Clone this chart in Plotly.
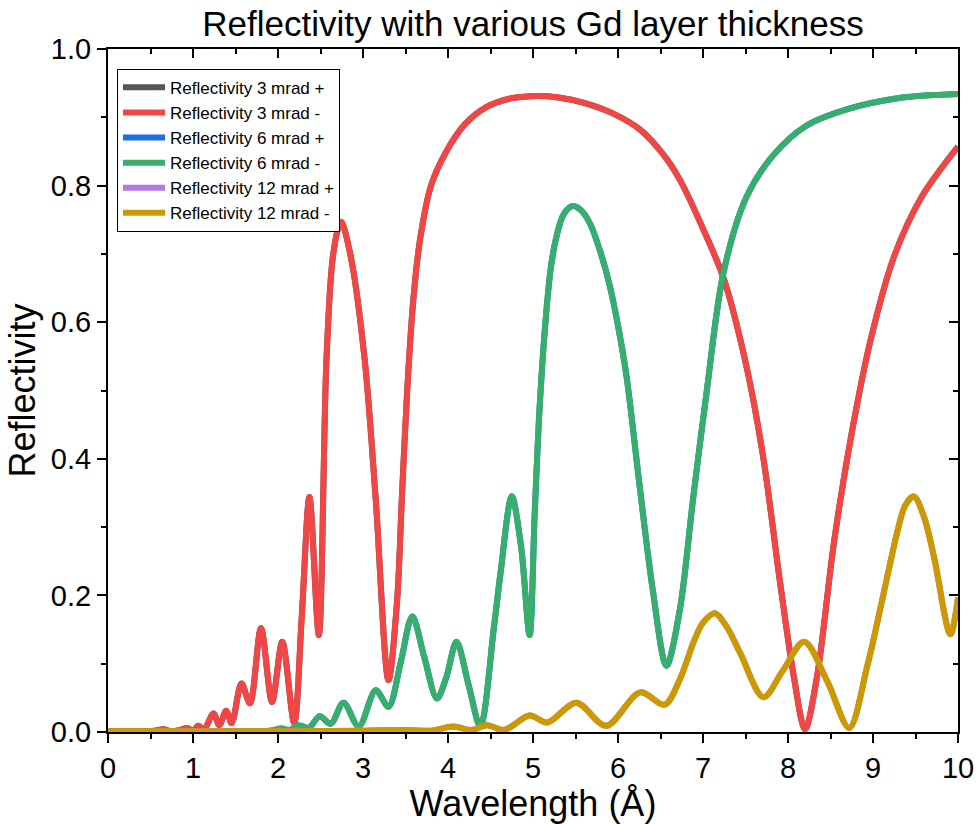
import plotly.graph_objects as go

# ---- data ----
wl_3 = [0, 0.3, 0.55, 0.65, 0.75, 0.85, 0.93, 1.0, 1.06, 1.13, 1.24, 1.31, 1.39, 1.455,
        1.57, 1.67, 1.80, 1.93, 2.05, 2.19, 2.28, 2.37, 2.48, 2.57, 2.65, 2.74, 2.85,
        3.02, 3.15, 3.30, 3.40, 3.46, 3.52, 3.59, 3.67, 3.80, 3.98, 4.20, 4.45, 4.75,
        5.0, 5.3, 5.6, 5.95, 6.26, 6.53, 6.73, 6.96, 7.24, 7.51, 7.71, 7.91, 8.07,
        8.20, 8.34, 8.54, 8.74, 8.97, 9.25, 9.57, 10.0]
r_3 = [0.001, 0.001, 0.002, 0.004, 0.001, 0.003, 0.006, 0.002, 0.009, 0.004, 0.027, 0.010,
       0.031, 0.013, 0.071, 0.042, 0.152, 0.044, 0.132, 0.013, 0.17, 0.344, 0.142, 0.545,
       0.70, 0.747, 0.70, 0.545, 0.34, 0.076, 0.19, 0.35, 0.50, 0.63, 0.72, 0.80, 0.85,
       0.89, 0.915, 0.928, 0.931, 0.929, 0.921, 0.905, 0.882, 0.846, 0.808, 0.748, 0.665,
       0.536, 0.401, 0.216, 0.080, 0.004, 0.080, 0.277, 0.431, 0.573, 0.697, 0.783, 0.857]

wl_6 = [0, 1.0, 1.6, 1.9, 2.04, 2.14, 2.24, 2.36, 2.49, 2.62, 2.77, 2.95, 3.15, 3.30,
        3.44, 3.58, 3.72, 3.87, 3.98, 4.10, 4.24, 4.38, 4.54, 4.62, 4.75, 4.86, 4.96,
        5.02, 5.08, 5.16, 5.21, 5.27, 5.36, 5.47, 5.58, 5.68, 5.80, 5.90, 6.00, 6.10,
        6.25, 6.41, 6.57, 6.73, 6.88, 7.04, 7.24, 7.51, 7.83, 8.22, 8.70, 9.29, 10.0]
r_6 = [0.0, 0.0, 0.001, 0.002, 0.005, 0.003, 0.010, 0.006, 0.023, 0.012, 0.043, 0.008,
       0.061, 0.037, 0.10, 0.169, 0.11, 0.049, 0.08, 0.132, 0.07, 0.008, 0.153, 0.235,
       0.345, 0.271, 0.142, 0.32, 0.48, 0.62, 0.68, 0.722, 0.758, 0.770, 0.762, 0.742,
       0.700, 0.655, 0.595, 0.521, 0.365, 0.207, 0.097, 0.181, 0.338, 0.495, 0.672,
       0.783, 0.845, 0.888, 0.912, 0.928, 0.934]

wl_12 = [0, 2.0, 3.0, 3.5, 3.8, 4.06, 4.28, 4.46, 4.66, 4.96, 5.17, 5.51, 5.86, 6.26,
         6.55, 6.72, 6.9, 7.0, 7.14, 7.28, 7.44, 7.71, 7.94, 8.19, 8.46, 8.72, 8.93,
         9.12, 9.29, 9.38, 9.48, 9.6, 9.72, 9.91, 10.0]
r_12 = [0.001, 0.001, 0.002, 0.003, 0.002, 0.008, 0.003, 0.010, 0.003, 0.024, 0.014,
        0.043, 0.009, 0.058, 0.040, 0.075, 0.135, 0.16, 0.174, 0.154, 0.115, 0.051, 0.090,
        0.132, 0.075, 0.006, 0.095, 0.20, 0.295, 0.332, 0.345, 0.315, 0.255, 0.143, 0.197]

series_names = ["Reflectivity 3 mrad +", "Reflectivity 3 mrad -",
                "Reflectivity 6 mrad +", "Reflectivity 6 mrad -",
                "Reflectivity 12 mrad +", "Reflectivity 12 mrad -"]
series_x = [wl_3, wl_3, wl_6, wl_6, wl_12, wl_12]
series_y = [r_3, r_3, r_6, r_6, r_12, r_12]
colors = ["#555555", "#F04646", "#1F6FDF", "#37AE6C", "#B07ADF", "#CC9900"]

FONT = "Liberation Sans, Arial, sans-serif"

fig = go.Figure()
for name, xs, ys, c in zip(series_names, series_x, series_y, colors):
    fig.add_trace(go.Scatter(x=xs, y=ys, name=name, mode="lines",
                             line=dict(color=c, width=6, shape="spline", smoothing=0.9)))

# dummy trace for mirrored (inward-tick) axes
fig.add_trace(go.Scatter(x=[0], y=[0], xaxis="x2", yaxis="y2", mode="markers",
                         marker=dict(opacity=0), showlegend=False, hoverinfo="skip"))

axis_common = dict(showgrid=False, zeroline=False, showline=True, linecolor="black",
                   linewidth=2, mirror=True, ticks="outside", ticklen=9, tickwidth=2,
                   tickcolor="black", automargin=False,
                   tickfont=dict(family=FONT, size=29, color="black"))

fig.update_layout(
    width=979, height=824,
    margin=dict(l=108, r=21, t=49, b=92),
    paper_bgcolor="white", plot_bgcolor="white",
    title=dict(text="Reflectivity with various Gd layer thickness", x=0.5, xref="paper",
               xanchor="center", y=0.971, yanchor="middle",
               font=dict(family=FONT, size=35, color="black")),
    xaxis=dict(range=[0, 10], dtick=1, tick0=0,
               minor=dict(ticks="outside", dtick=0.5, ticklen=5, tickwidth=2, tickcolor="black"),
               title=dict(text="Wavelength (Å)", font=dict(family=FONT, size=36, color="black"),
                          standoff=2),
               **axis_common),
    yaxis=dict(range=[0, 1], dtick=0.2, tick0=0, tickformat=".1f",
               minor=dict(ticks="outside", dtick=0.1, ticklen=5, tickwidth=2, tickcolor="black"),
               title=dict(text="Reflectivity", font=dict(family=FONT, size=36, color="black"),
                          standoff=4),
               **axis_common),
    xaxis2=dict(overlaying="x", side="top", range=[0, 10], dtick=1, tick0=0, automargin=False,
                showticklabels=False, showgrid=False, zeroline=False, showline=False,
                ticks="inside", ticklen=9, tickwidth=2, tickcolor="black",
                minor=dict(ticks="inside", dtick=0.5, ticklen=5, tickwidth=2, tickcolor="black")),
    yaxis2=dict(overlaying="y", side="right", range=[0, 1], dtick=0.2, tick0=0, automargin=False,
                showticklabels=False, showgrid=False, zeroline=False, showline=False,
                ticks="inside", ticklen=9, tickwidth=2, tickcolor="black",
                minor=dict(ticks="inside", dtick=0.1, ticklen=5, tickwidth=2, tickcolor="black")),
    legend=dict(x=0.0106, y=0.971, xanchor="left", yanchor="top",
                bgcolor="white", bordercolor="black", borderwidth=1,
                font=dict(family=FONT, size=17, color="black"),
                tracegroupgap=0, itemwidth=42),
    showlegend=True,
)

fig.write_html("out.html")
